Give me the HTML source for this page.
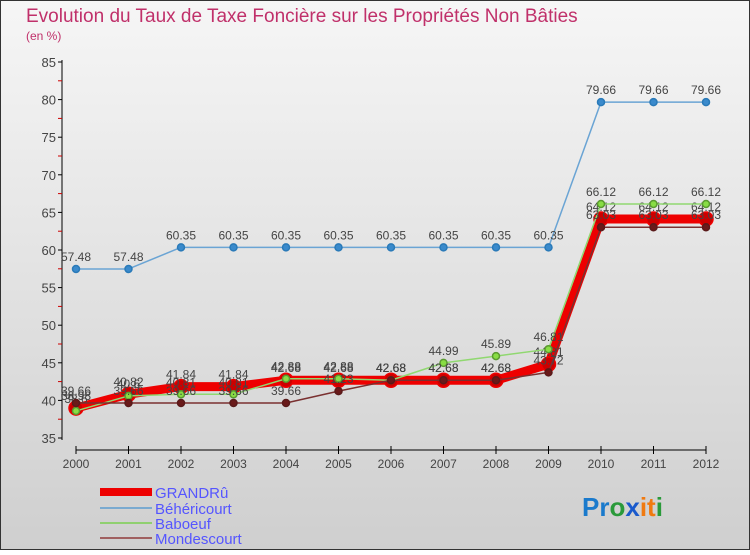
<!DOCTYPE html>
<html><head><meta charset="utf-8"><style>
body{margin:0;width:750px;height:550px;overflow:hidden;font-family:"Liberation Sans",sans-serif}
svg text{font-family:"Liberation Sans",sans-serif}
</style></head><body>
<svg id="c" width="750" height="550" xmlns="http://www.w3.org/2000/svg">
<defs><linearGradient id="bg" x1="0" y1="0" x2="0" y2="1"><stop offset="0" stop-color="#f6f6f6"/><stop offset="1" stop-color="#cfcfcf"/></linearGradient></defs>
<rect x="0.5" y="0.5" width="749" height="549" fill="url(#bg)" stroke="#333"/>
<text x="26" y="22" font-size="19" fill="#c0306a">Evolution du Taux de Taxe Foncière sur les Propriétés Non Bâties</text>
<text x="26" y="40" font-size="12" fill="#c0306a">(en %)</text>
<g id="axes"></g><g id="series"></g>
<g>
<rect x="100" y="488" width="52" height="8" fill="#e00"/>
<text x="155" y="498" font-size="15" fill="#55f">GRANDRû</text>
<line x1="100" y1="508" x2="152" y2="508" stroke="#7aaad0" stroke-width="2"/>
<text x="155" y="514" font-size="15" fill="#55f">Béhéricourt</text>
<line x1="100" y1="523" x2="152" y2="523" stroke="#90d070" stroke-width="2"/>
<text x="155" y="529" font-size="15" fill="#55f">Baboeuf</text>
<line x1="100" y1="538" x2="152" y2="538" stroke="#a06060" stroke-width="2"/>
<text x="155" y="544" font-size="15" fill="#55f">Mondescourt</text>
</g>
<text x="582" y="516" font-size="26" font-weight="bold"><tspan fill="#1a7acc">Pr</tspan><tspan fill="#2a9a3a">o</tspan><tspan fill="#1a5acc">x</tspan><tspan fill="#f07a10">it</tspan><tspan fill="#2a9a3a">i</tspan></text>
</svg>
<script>
const years=[2000,2001,2002,2003,2004,2005,2006,2007,2008,2009,2010,2011,2012];
const yTicks=[35,40,45,50,55,60,65,70,75,80,85];
const grandru=[38.98,40.82,41.84,41.84,42.68,42.68,42.68,42.68,42.68,44.81,64.12,64.12,64.12];
const behericourt=[57.48,57.48,60.35,60.35,60.35,60.35,60.35,60.35,60.35,60.35,79.66,79.66,79.66];
const baboeuf=[38.6,40.6,40.81,40.81,42.88,42.88,42.68,44.99,45.89,46.81,66.12,66.12,66.12];
const mondescourt=[39.66,39.66,39.66,39.66,39.66,41.23,42.68,42.68,42.68,43.72,63.03,63.03,63.03];
const NS="http://www.w3.org/2000/svg";
const xs=i=>76+i*52.5;
const ys=v=>438-(v-35)*7.52;
function mk(t,a,p){const e=document.createElementNS(NS,t);for(const k in a)e.setAttribute(k,a[k]);p.appendChild(e);return e;}
const ax=document.getElementById('axes');
let yl=mk('line',{x1:62,y1:60,x2:62,y2:440,stroke:'#000'},ax);


let xl=mk('line',{x1:76,y1:450,x2:706,y2:450,stroke:'#000'},ax);


yTicks.forEach(v=>{
  mk('line',{x1:58,y1:ys(v),x2:62,y2:ys(v),stroke:'#000'},ax);
  if(v<85)mk('line',{x1:58,y1:ys(v+2.5),x2:62,y2:ys(v+2.5),stroke:'#c00'},ax);
  const t=mk('text',{x:56,y:ys(v)+5,'font-size':13,fill:'#444','text-anchor':'end'},ax);
  t.textContent=v;
  
  
});
years.forEach((y,i)=>{
  mk('line',{x1:xs(i),y1:446,x2:xs(i),y2:454,stroke:'#000'},ax);
  const t=mk('text',{x:xs(i),y:468,'font-size':12,fill:'#444','text-anchor':'middle'},ax);
  t.textContent=y;
  
  
});
const sg=document.getElementById('series');
function draw(data,name,col,w,dot,dotFill,r){
  const g=mk('g',{},sg);
  
  
  const l=mk('polyline',{points:data.map((v,i)=>xs(i)+','+ys(v)).join(' '),fill:'none',stroke:col,'stroke-width':w,'stroke-linejoin':'round'},g);
  
  
  data.forEach((v,i)=>{
    const c=mk('circle',{cx:xs(i),cy:ys(v),r:r,fill:dotFill,stroke:dot,'stroke-width':1.5},g);
    
    
    const t=mk('text',{x:xs(i),y:ys(v)-8,'font-size':12,fill:'#444','text-anchor':'middle'},g);
    t.textContent=v.toFixed(2).replace(/0$/,'');
    
    
  });
}
draw(behericourt,'behericourt','#6aa4d4',1.5,'#2a7ab8','#3a8acc',3.5);
draw(grandru,'grandru','#e00',9,'#e00','#c00',7);
draw(baboeuf,'baboeuf','#90d870',1.5,'#5a9a30','#88dd44',3.5);
draw(mondescourt,'mondescourt','#7a3030',1.5,'#5a1a1a','#6a1a1a',3.5);
</script>
</body></html>
